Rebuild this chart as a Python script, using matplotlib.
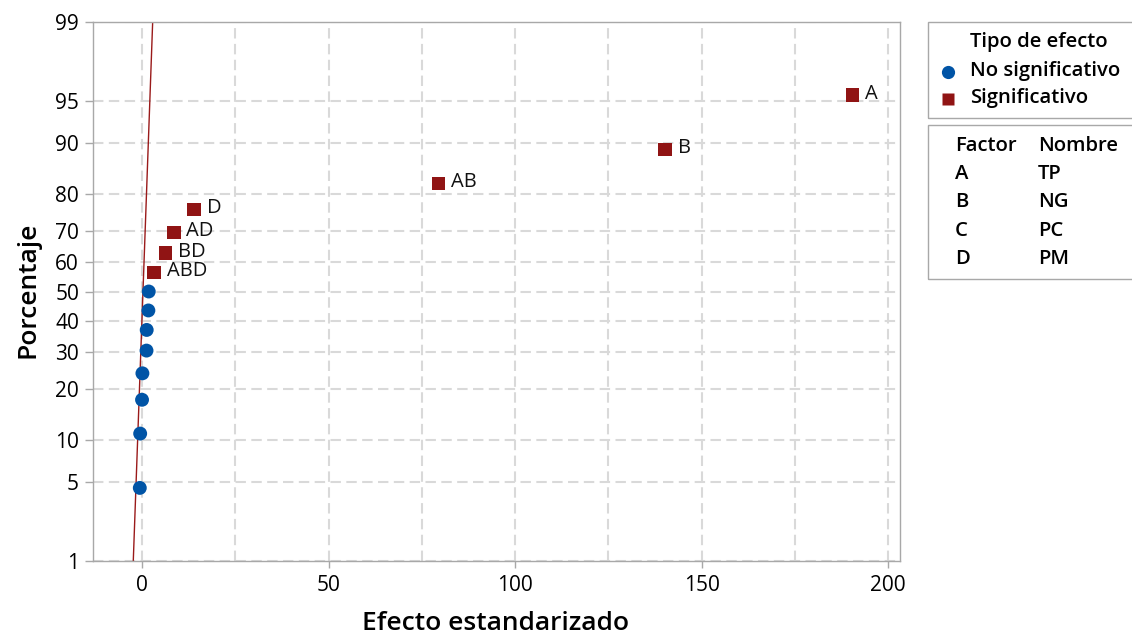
import numpy as np
import matplotlib
matplotlib.use("Agg")
import matplotlib.pyplot as plt
from matplotlib.lines import Line2D
from matplotlib.patches import Rectangle
from statistics import NormalDist

plt.rcParams["font.family"] = ["Open Sans", "DejaVu Sans"]

# Standardized effects (non-significant, sorted) and their normal-plot percentages
ns_effects = [-0.65, -0.55, -0.05, 0.05, 1.15, 1.2, 1.65, 1.75]
ns_pct = [4.5, 11.0, 17.5, 24.0, 30.5, 37.0, 43.5, 50.0]

# Significant effects with their term labels
sig_terms = ["ABD", "BD", "AD", "D", "AB", "B", "A"]
sig_effects = [3.2, 6.2, 8.5, 13.9, 79.5, 140.2, 190.4]
sig_pct = [56.5, 63.0, 69.5, 76.0, 82.5, 89.0, 95.5]

# Reference line endpoints
line_pct = [1, 99]
line_effect = [-2.4, 2.8]

y_ticks = [1, 5, 10, 20, 30, 40, 50, 60, 70, 80, 90, 95, 99]
x_ticks = [0, 50, 100, 150, 200]
x_grid = [0, 25, 50, 75, 100, 125, 150, 175, 200]

factors = ["A", "B", "C", "D"]
names = ["TP", "NG", "PC", "PM"]

BLUE = "#0054A6"
RED = "#901414"
GRID = "#d9d9d9"
FRAME = "#a8a8a8"
LEG_FS = 14.6

_nd = NormalDist()
_inv = np.vectorize(lambda v: _nd.inv_cdf(v / 100.0), otypes=[float])
_cdf = np.vectorize(lambda v: 100.0 * _nd.cdf(v), otypes=[float])


def pct_to_z(p):
    p = np.clip(np.asarray(p, dtype=float), 1e-6, 100 - 1e-6)
    return _inv(p)


def z_to_pct(z):
    return _cdf(np.asarray(z, dtype=float))


W, H = 1132, 637
fig = plt.figure(figsize=(W / 100, H / 100), dpi=100)
ax = fig.add_axes([93 / W, 1 - 561 / H, (900 - 93) / W, (561 - 22) / H])
ax.set_yscale("function", functions=(pct_to_z, z_to_pct))
ax.set_ylim(1, 99)
ax.set_xlim(-13.2, 203.2)

# grid
for xv in x_grid:
    ax.axvline(xv, color=GRID, lw=1.5, ls=(0, (5, 2.6)), zorder=0)
for yv in y_ticks:
    ax.axhline(yv, color=GRID, lw=1.5, ls=(0, (5, 2.6)), zorder=0)

# reference line
ax.plot(line_effect, line_pct, color="#9a1a1a", lw=1.0, zorder=2)

ax.scatter(ns_effects, ns_pct, s=100, marker="o", color=BLUE,
           edgecolors="none", zorder=3)
ax.scatter(sig_effects, sig_pct, s=92, marker="s", color=RED,
           edgecolors="none", zorder=3)
for t, xv, yv in zip(sig_terms, sig_effects, sig_pct):
    ax.annotate(t, (xv, yv), xytext=(9, 1), textcoords="offset points",
                fontsize=14.5, va="center", ha="left", color="#111111")

ax.set_yticks(y_ticks)
ax.set_yticklabels([str(v) for v in y_ticks])
ax.set_xticks(x_ticks)
ax.set_xticklabels([str(v) for v in x_ticks])
ax.minorticks_off()
ax.tick_params(axis="y", length=6, width=1, color=FRAME, pad=4,
               labelsize=15)
ax.tick_params(axis="x", length=5, width=1, color=FRAME, pad=5,
               labelsize=15)
for sp in ax.spines.values():
    sp.set_color(FRAME)
    sp.set_linewidth(1.0)

fig.text(28 / W, 1 - 290 / H, "Porcentaje", rotation=90, fontsize=19,
         fontweight="semibold", ha="center", va="center")
fig.text(496 / W, 1 - 623 / H, "Efecto estandarizado", fontsize=19,
         fontweight="semibold", ha="center", va="center")

# legend box: effect type
fig.patches.append(Rectangle((928 / W, 1 - 118 / H), (1140 - 928) / W,
                             (118 - 22) / H, transform=fig.transFigure,
                             fill=False, edgecolor=FRAME, lw=1.0))
fig.text(1039 / W, 1 - 42 / H, "Tipo de efecto", fontsize=LEG_FS,
         fontweight="semibold", ha="center", va="center")
fig.lines.append(Line2D([948 / W], [1 - 72 / H], marker="o", ms=9.5,
                        color=BLUE, mec="none", transform=fig.transFigure))
fig.text(970 / W, 1 - 71 / H, "No significativo", fontsize=LEG_FS,
         fontweight="semibold", ha="left", va="center")
fig.lines.append(Line2D([948 / W], [1 - 99 / H], marker="s", ms=9,
                        color=RED, mec="none", transform=fig.transFigure))
fig.text(970 / W, 1 - 98 / H, "Significativo", fontsize=LEG_FS,
         fontweight="semibold", ha="left", va="center")

# legend box: factor names
fig.patches.append(Rectangle((928 / W, 1 - 279 / H), (1140 - 928) / W,
                             (279 - 125) / H, transform=fig.transFigure,
                             fill=False, edgecolor=FRAME, lw=1.0))
fig.text(955 / W, 1 - 146 / H, "Factor", fontsize=LEG_FS,
         fontweight="semibold", ha="left", va="center")
fig.text(1038 / W, 1 - 146 / H, "Nombre", fontsize=LEG_FS,
         fontweight="semibold", ha="left", va="center")
for i, (f, n) in enumerate(zip(factors, names)):
    yy = 1 - (174 + 28.3 * i) / H
    fig.text(955 / W, yy, f, fontsize=LEG_FS, fontweight="semibold",
             ha="left", va="center")
    fig.text(1038 / W, yy, n, fontsize=LEG_FS, fontweight="semibold",
             ha="left", va="center")

fig.savefig("out.png", dpi=100)
